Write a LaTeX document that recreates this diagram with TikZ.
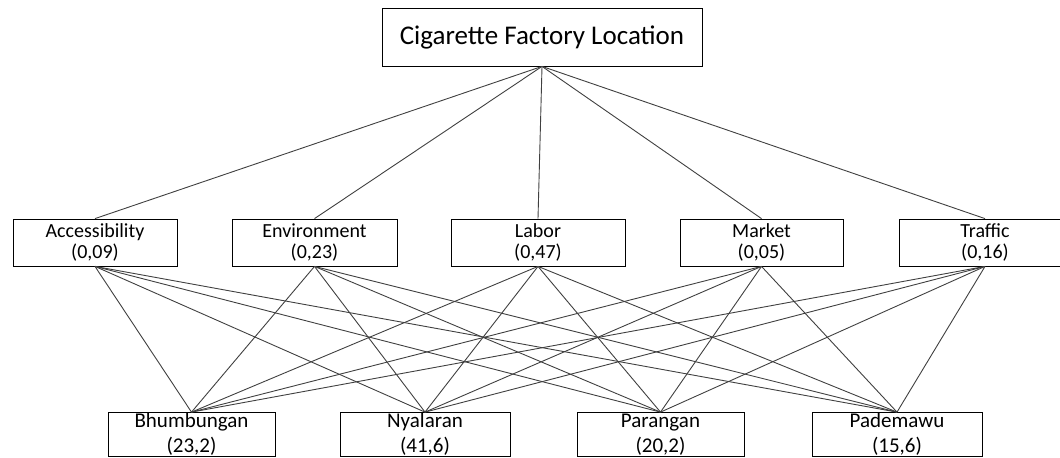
\documentclass[tikz,border=0pt]{standalone}
\usepackage{fontspec}
\setmainfont{Carlito}
\tikzset{
  goalbox/.style={draw, thin, inner sep=0pt, minimum width=160pt, minimum height=29pt,
    font=\fontsize{13.5}{15}\selectfont},
  critbox/.style={draw, thin, inner sep=0pt, minimum height=23.5pt, align=center,
    font=\fontsize{10}{10.5}\selectfont},
  altbox/.style={draw, thin, inner sep=0pt, minimum height=22pt, align=center,
    font=\fontsize{10.5}{12.5}\selectfont},
  link/.style={draw=black!75, line width=0.45pt}
}
\begin{document}
\begin{tikzpicture}[x=0.5pt,y=-0.5pt]
      \useasboundingbox (0,0) rectangle (1060,457);
      % goal
      \node[goalbox] (goal) at (542,37) {Cigarette Factory Location\hspace{4pt}};
      % criteria
      \node[critbox, minimum width=82pt] (acc) at (95,242.5) {Accessibility\\(0,09)};
      \node[critbox, minimum width=82.5pt] (env) at (314.5,242.5) {Environment\\(0,23)};
      \node[critbox, minimum width=87pt] (lab) at (538,242.5) {Labor\\(0,47)};
      \node[critbox, minimum width=81.5pt] (mar) at (761.5,242.5) {Market\\(0,05)};
      \node[critbox, minimum width=86pt] (tra) at (985,242.5) {Traffic\\(0,16)};
      % alternatives
      \node[altbox, minimum width=83.5pt] (bhu) at (191.5,434.5) {Bhumbungan\\(23,2)};
      \node[altbox, minimum width=85pt] (nya) at (425,434.5) {Nyalaran\\(41,6)};
      \node[altbox, minimum width=83.5pt] (par) at (660.5,434.5) {Parangan\\(20,2)};
      \node[altbox, minimum width=85pt] (pad) at (897,434.5) {Pademawu\\(15,6)};
      \begin{scope}[link]
        \draw (goal.south) to (acc.north);
        \draw (goal.south) to (env.north);
        \draw (goal.south) to (lab.north);
        \draw (goal.south) to (mar.north);
        \draw (goal.south) to (tra.north);
        \draw (acc.south) to (bhu.north);
        \draw (acc.south) to (nya.north);
        \draw (acc.south) to (par.north);
        \draw (acc.south) to (pad.north);
        \draw (env.south) to (bhu.north);
        \draw (env.south) to (nya.north);
        \draw (env.south) to (par.north);
        \draw (env.south) to (pad.north);
        \draw (lab.south) to (bhu.north);
        \draw (lab.south) to (nya.north);
        \draw (lab.south) to (par.north);
        \draw (lab.south) to (pad.north);
        \draw (mar.south) to (bhu.north);
        \draw (mar.south) to (nya.north);
        \draw (mar.south) to (par.north);
        \draw (mar.south) to (pad.north);
        \draw (tra.south) to (bhu.north);
        \draw (tra.south) to (nya.north);
        \draw (tra.south) to (par.north);
        \draw (tra.south) to (pad.north);
      \end{scope}
    \end{tikzpicture}
\end{document}
